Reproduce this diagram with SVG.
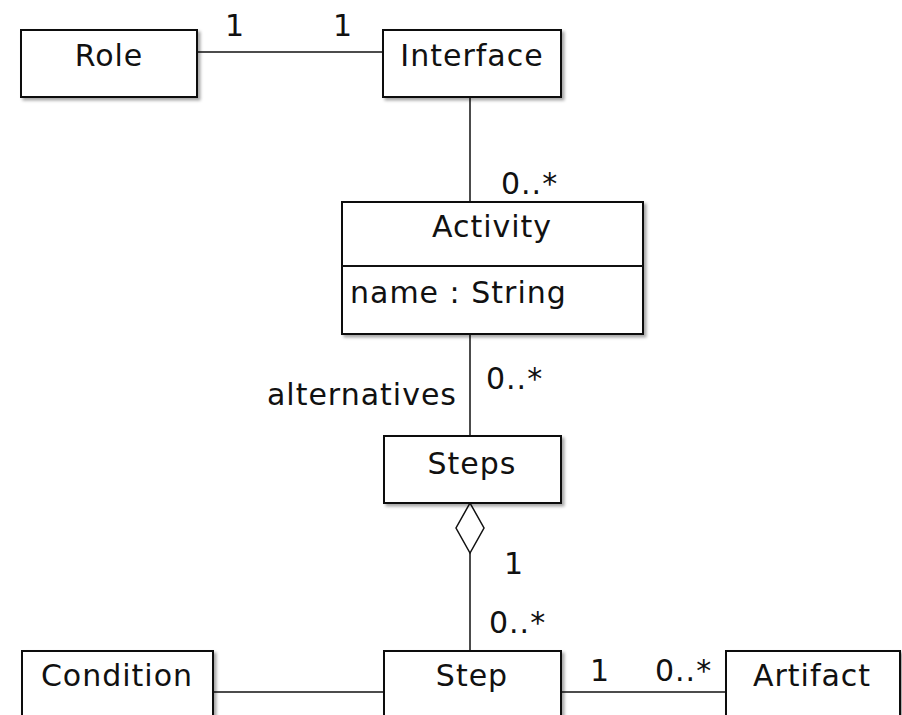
<svg xmlns="http://www.w3.org/2000/svg" width="902" height="715" viewBox="0 0 902 715">
  <style>
    .box { fill: #ffffff; stroke: #111111; stroke-width: 2; filter: url(#shadow); }
    .sep { stroke: #111111; stroke-width: 2; }
    .edge { fill: none; stroke: #111111; stroke-width: 1.5; }
    text { font-family: "DejaVu Sans", "Liberation Sans", sans-serif; font-size: 30px; letter-spacing: 1px; fill: #111111; }
    .c { text-anchor: middle; }
    .r { text-anchor: end; }
  </style>
  <defs>
    <filter id="shadow" x="-10%" y="-10%" width="125%" height="130%">
      <feDropShadow dx="2.5" dy="2.5" stdDeviation="1.5" flood-color="#000000" flood-opacity="0.35"/>
    </filter>
  </defs>
  <rect width="902" height="715" fill="#ffffff"/>

  <!-- associations -->
  <g id="connectors">
    <line class="edge" x1="197" y1="52" x2="383" y2="52"/>
    <line class="edge" x1="470" y1="97" x2="470" y2="202"/>
    <line class="edge" x1="470" y1="334" x2="470" y2="436"/>
    <path class="edge" d="M470 503 L484 528 L470 553 L456 528 Z" fill="#ffffff"/>
    <line class="edge" x1="470" y1="553" x2="470" y2="651"/>
    <line class="edge" x1="213" y1="692" x2="384" y2="692"/>
    <line class="edge" x1="561" y1="692" x2="726" y2="692"/>
    <text x="235" y="36" class="c">1</text>
    <text x="343" y="36" class="c">1</text>
    <text x="501" y="194">0..*</text>
    <text x="486" y="389">0..*</text>
    <text x="457" y="405" class="r">alternatives</text>
    <text x="514" y="574" class="c">1</text>
    <text x="489" y="633">0..*</text>
    <text x="600" y="681" class="c">1</text>
    <text x="655" y="681">0..*</text>
  </g>

  <g id="role">
    <rect class="box" x="21" y="30" width="176" height="67"/>
    <text x="109" y="66" class="c">Role</text>
  </g>

  <g id="interface">
    <rect class="box" x="383" y="30" width="178" height="67"/>
    <text x="472" y="66" class="c">Interface</text>
  </g>

  <g id="activity">
    <rect class="box" x="342" y="202" width="301" height="132"/>
    <line class="sep" x1="342" y1="266" x2="643" y2="266"/>
    <text x="492" y="237" class="c">Activity</text>
    <text x="350" y="303">name : String</text>
  </g>

  <g id="steps">
    <rect class="box" x="384" y="436" width="177" height="67"/>
    <text x="472" y="474" class="c">Steps</text>
  </g>

  <g id="condition">
    <rect class="box" x="22" y="651" width="191" height="80"/>
    <text x="117" y="686" class="c">Condition</text>
  </g>

  <g id="step">
    <rect class="box" x="384" y="651" width="177" height="80"/>
    <text x="472" y="686" class="c">Step</text>
  </g>

  <g id="artifact">
    <rect class="box" x="726" y="651" width="174" height="80"/>
    <text x="812" y="686" class="c">Artifact</text>
  </g>
</svg>
